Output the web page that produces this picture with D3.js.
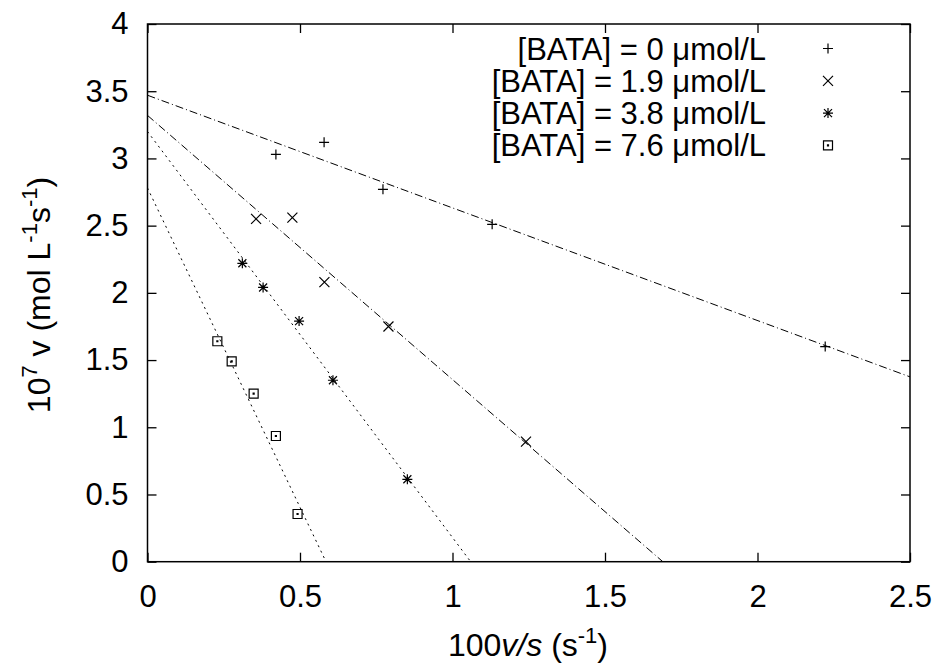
<!DOCTYPE html>
<html>
<head>
<meta charset="utf-8">
<script src="https://cdn.jsdelivr.net/npm/d3@7"></script>
<style>
  body { margin: 0; background: #fff; }
  svg { font-family: "Liberation Sans", Arial, sans-serif; }
</style>
</head>
<body>
<svg id="viz" width="936" height="664"></svg>
<script>
// Data

var bata = ["0", "1.9", "3.8", "7.6"];

var x_bata0 = [0.421, 0.579, 0.772, 1.13, 2.222],
    y_bata0 = [3.03, 3.12, 2.77, 2.51, 1.60];
var x_bata1 = [0.356, 0.475, 0.58, 0.79, 1.241],
    y_bata1 = [2.55, 2.56, 2.08, 1.75, 0.893];
var x_bata2 = [0.311, 0.379, 0.497, 0.608, 0.852],
    y_bata2 = [2.22, 2.04, 1.79, 1.35, 0.613];
var x_bata3 = [0.229, 0.276, 0.348, 0.421, 0.492],
    y_bata3 = [1.64, 1.49, 1.25, 0.935, 0.355];

// fitted lines: v = a + b * (100 v/s)
var fit_intercepts = [3.47, 3.32, 3.20, 2.78],
    fit_slopes = [-0.838, -1.965, -3.02, -4.75];

var x_ticks = [0, 0.5, 1, 1.5, 2, 2.5],
    y_ticks = [0, 0.5, 1, 1.5, 2, 2.5, 3, 3.5, 4];

var series_x = [x_bata0, x_bata1, x_bata2, x_bata3],
    series_y = [y_bata0, y_bata1, y_bata2, y_bata3];

var markers = ["plus", "cross", "star", "box"],
    dashes = ["8,3,1,3", "8,3,1,3", "2,4", "2,4"];

// Layout

var svg = d3.select("svg"),
    plotLeft = 147.5, plotRight = 910, plotTop = 24, plotBottom = 561.7,
    fs = 31;

var x = d3.scaleLinear().domain([0, 2.5]).range([plotLeft, plotRight]);
var y = d3.scaleLinear().domain([0, 4]).range([plotBottom, plotTop]);

// Axes (ticks inward, mirrored like gnuplot)

svg.append("g")
    .attr("transform", "translate(0," + plotBottom + ")")
    .call(d3.axisBottom(x).tickValues(x_ticks).tickSize(-9).tickPadding(23)
      .tickFormat(d3.format("")));
svg.append("g")
    .attr("transform", "translate(0," + plotTop + ")")
    .call(d3.axisTop(x).tickValues(x_ticks).tickSize(-9).tickFormat(""));
svg.append("g")
    .attr("transform", "translate(" + plotLeft + ",0)")
    .call(d3.axisLeft(y).tickValues(y_ticks).tickSize(-9).tickPadding(19)
      .tickFormat(d3.format("")));
svg.append("g")
    .attr("transform", "translate(" + plotRight + ",0)")
    .call(d3.axisRight(y).tickValues(y_ticks).tickSize(-9).tickFormat(""));

svg.selectAll(".domain").remove();
svg.selectAll(".tick line").attr("stroke", "#000").attr("stroke-width", 1.3);
svg.selectAll(".tick text")
    .attr("fill", "#000")
    .style("font-size", fs + "px")
    .style("font-family", "Liberation Sans, Arial, sans-serif");

svg.append("rect")
    .attr("x", plotLeft).attr("y", plotTop)
    .attr("width", plotRight - plotLeft).attr("height", plotBottom - plotTop)
    .attr("fill", "none").attr("stroke", "#000").attr("stroke-width", 1.5);

// Fit lines

var line = d3.line().x(d => x(d[0])).y(d => y(d[1]));

fit_intercepts.forEach(function(a, i) {
  var b = fit_slopes[i],
      xend = Math.min(2.5, -a / b);
  svg.append("path")
    .attr("d", line([[0, a], [xend, a + b * xend]]))
    .attr("fill", "none")
    .attr("stroke", "#000")
    .attr("stroke-width", 1)
    .attr("stroke-dasharray", dashes[i]);
});

// Point markers

function markerPath(type, cx, cy) {
  var r = 5, p = d3.path();
  if (type == "plus" || type == "star") {
    p.moveTo(cx - r, cy); p.lineTo(cx + r, cy);
    p.moveTo(cx, cy - r); p.lineTo(cx, cy + r);
  }
  if (type == "cross" || type == "star") {
    var s = type == "star" ? 4 : r;
    p.moveTo(cx - s, cy - s); p.lineTo(cx + s, cy + s);
    p.moveTo(cx - s, cy + s); p.lineTo(cx + s, cy - s);
  }
  if (type == "box") {
    p.rect(cx - 4.5, cy - 4.5, 9, 9);
    p.rect(cx - 0.5, cy - 0.5, 1, 1);
  }
  return p.toString();
}

series_x.forEach(function(xs, i) {
  svg.append("g").selectAll("path")
    .data(xs.map((v, j) => [v, series_y[i][j]]))
    .enter().append("path")
    .attr("d", d => markerPath(markers[i], x(d[0]), y(d[1])))
    .attr("fill", "none")
    .attr("stroke", "#000")
    .attr("stroke-width", 1.2);
});

// Legend

var legend = svg.append("g");
bata.forEach(function(c, i) {
  var ly = 48.5 + i * 32.3;
  legend.append("text")
    .attr("x", 766).attr("y", ly + 11)
    .attr("text-anchor", "end")
    .style("font-size", "31px")
    .text("[BATA] = " + c + " \u03bcmol/L");
  legend.append("path")
    .attr("d", markerPath(markers[i], 828, ly))
    .attr("fill", "none")
    .attr("stroke", "#000")
    .attr("stroke-width", 1.2);
});

// Axis titles

var xt = svg.append("text")
    .attr("x", 528).attr("y", 656)
    .attr("text-anchor", "middle")
    .style("font-size", "32px");
xt.append("tspan").text("100");
xt.append("tspan").style("font-style", "italic").text("v/s");
xt.append("tspan").text(" (s");
xt.append("tspan").attr("dy", -13).style("font-size", "22px").text("-1");
xt.append("tspan").attr("dy", 13).text(")");

var yt = svg.append("text")
    .attr("transform", "translate(50,295) rotate(-90)")
    .attr("text-anchor", "middle")
    .style("font-size", "32px");
yt.append("tspan").text("10");
yt.append("tspan").attr("dy", -13).style("font-size", "22px").text("7");
yt.append("tspan").attr("dy", 13).text(" v (mol L");
yt.append("tspan").attr("dy", -13).style("font-size", "22px").text("-1");
yt.append("tspan").attr("dy", 13).text("s");
yt.append("tspan").attr("dy", -13).style("font-size", "22px").text("-1");
yt.append("tspan").attr("dy", 13).text(")");
</script>
</body>
</html>
